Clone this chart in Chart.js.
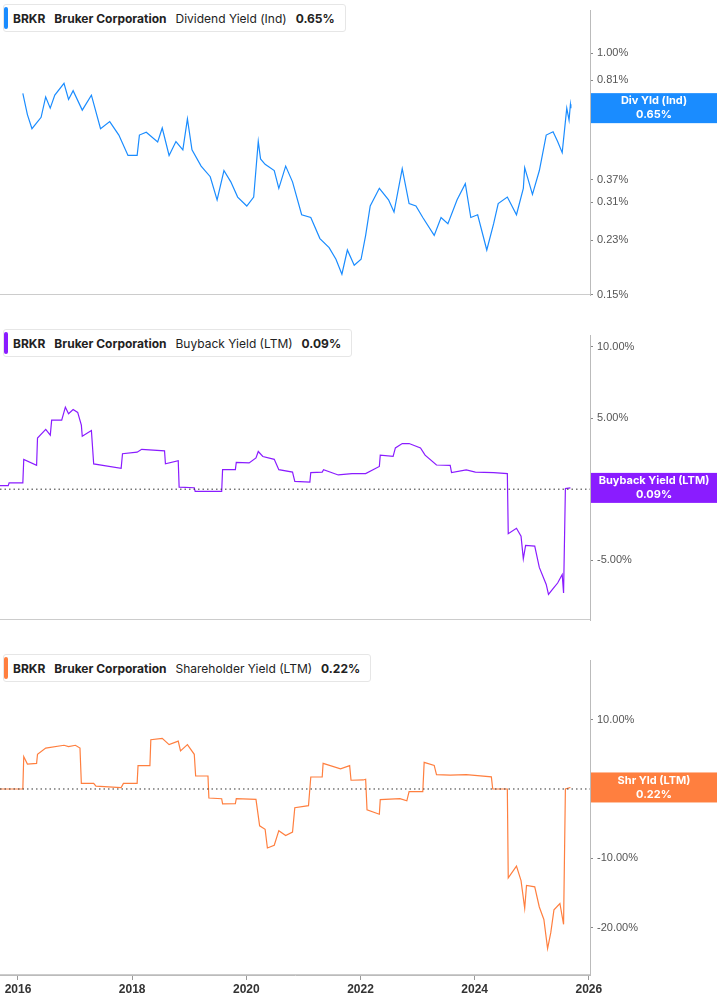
<!DOCTYPE html>
<html><head><meta charset="utf-8">
<script src="https://cdn.jsdelivr.net/npm/chart.js@4"></script>
<style>
body{margin:0;background:#fff;font-family:Inter,Roboto,sans-serif;}
.w{position:absolute;left:0;width:717px;}
.lg{position:absolute;left:3px;top:4px;background:#fff;border:1px solid #e6e6e6;border-radius:3px;height:26px;display:flex;align-items:center;font-size:12px;color:#222;padding:0 10px 0 9px;white-space:nowrap;}
.lg .bar{position:absolute;left:0;top:2px;width:4px;height:22px;border-radius:2px;}
.lg b{font-weight:700;margin-right:9px}
.lg span{margin-right:9px}
</style></head><body>
<div class="w" style="top:0;height:325px"><canvas id="c1"></canvas>
<div class="lg"><div class="bar" style="background:#1a8cff"></div><b>BRKR</b><b>Bruker Corporation</b><span>Dividend Yield (Ind)</span><b style="margin-right:0">0.65%</b></div></div>
<div class="w" style="top:325px;height:325px"><canvas id="c2"></canvas>
<div class="lg"><div class="bar" style="background:#8a1cff"></div><b>BRKR</b><b>Bruker Corporation</b><span>Buyback Yield (LTM)</span><b style="margin-right:0">0.09%</b></div></div>
<div class="w" style="top:650px;height:355px"><canvas id="c3"></canvas>
<div class="lg"><div class="bar" style="background:#ff7f3f"></div><b>BRKR</b><b>Bruker Corporation</b><span>Shareholder Yield (LTM)</span><b style="margin-right:0">0.22%</b></div></div>
<script>
const yearTicks=[2016,2018,2020,2022,2024,2026];
const divTicks=[1.00,0.81,0.59,0.37,0.31,0.23,0.15];
const buyTicks=[10,5,0,-5];
const shrTicks=[10,0,-10,-20];
const divX=[2016.085,2016.165,2016.245,2016.405,2016.485,2016.565,2016.645,2016.806,2016.886,2016.966,2017.126,2017.286,2017.446,2017.607,2017.767,2017.927,2018.087,2018.127,2018.247,2018.447,2018.527,2018.647,2018.767,2018.888,2018.968,2019.048,2019.208,2019.368,2019.488,2019.608,2019.728,2019.848,2020.008,2020.129,2020.209,2020.249,2020.329,2020.489,2020.569,2020.689,2020.809,2020.969,2021.129,2021.289,2021.450,2021.570,2021.674,2021.770,2021.890,2022.010,2022.090,2022.170,2022.330,2022.491,2022.587,2022.731,2022.851,2022.971,2023.091,2023.291,2023.411,2023.531,2023.692,2023.836,2023.932,2024.052,2024.212,2024.332,2024.412,2024.572,2024.732,2024.852,2024.876,2025.012,2025.133,2025.253,2025.373,2025.453,2025.533,2025.613,2025.653,2025.677,2025.685];
const divY=[0.73,0.618,0.553,0.605,0.71,0.65,0.72,0.79,0.696,0.746,0.64,0.72,0.553,0.585,0.526,0.448,0.448,0.526,0.538,0.498,0.556,0.448,0.50,0.468,0.597,0.468,0.412,0.379,0.316,0.398,0.364,0.323,0.301,0.323,0.50,0.436,0.418,0.398,0.346,0.412,0.364,0.281,0.275,0.233,0.217,0.198,0.176,0.213,0.189,0.198,0.239,0.301,0.346,0.316,0.287,0.404,0.307,0.301,0.275,0.239,0.275,0.262,0.316,0.359,0.275,0.281,0.213,0.262,0.307,0.323,0.281,0.346,0.407,0.33,0.398,0.526,0.54,0.50,0.458,0.65,0.592,0.67,0.65];
const buyX=[2015.685,2015.829,2015.845,2016.085,2016.101,2016.326,2016.342,2016.486,2016.566,2016.590,2016.766,2016.830,2016.886,2016.966,2017.046,2017.110,2017.126,2017.286,2017.326,2017.807,2017.831,2018.087,2018.167,2018.567,2018.583,2018.807,2018.823,2019.088,2019.104,2019.568,2019.584,2019.808,2019.824,2020.049,2020.169,2020.209,2020.289,2020.489,2020.569,2020.809,2020.849,2021.113,2021.129,2021.329,2021.353,2021.610,2021.850,2022.090,2022.330,2022.346,2022.571,2022.611,2022.731,2022.851,2023.051,2023.131,2023.331,2023.571,2023.595,2023.852,2024.012,2024.332,2024.572,2024.588,2024.732,2024.812,2024.852,2024.892,2025.052,2025.132,2025.253,2025.293,2025.373,2025.453,2025.533,2025.557,2025.589,2025.677];
const buyY=[0.25,0.25,0.45,0.45,2.09,1.68,3.6,4.2,3.8,4.85,4.85,5.77,5.3,5.6,5.4,4.5,3.72,4.13,1.78,1.47,2.49,2.6,2.8,2.7,1.78,2.0,0.14,0.1,-0.16,-0.16,1.37,1.37,1.88,1.85,2.2,2.65,2.3,2.1,1.37,1.2,0.55,0.5,1.17,1.2,1.37,1.0,1.1,1.1,1.6,2.39,2.3,2.9,3.21,3.21,2.9,2.39,1.7,1.68,1.17,1.35,1.2,1.17,1.1,-3.13,-2.75,-3.3,-4.9,-3.95,-4.0,-5.5,-6.7,-7.4,-7.0,-6.6,-6.0,-7.3,0.04,0.09];
const shrX=[2015.685,2016.085,2016.101,2016.165,2016.326,2016.342,2016.486,2016.806,2016.886,2017.006,2017.086,2017.110,2017.326,2017.366,2017.807,2017.847,2018.087,2018.103,2018.311,2018.327,2018.527,2018.647,2018.807,2018.847,2018.968,2019.088,2019.112,2019.328,2019.344,2019.568,2019.584,2019.808,2019.824,2020.169,2020.233,2020.329,2020.369,2020.489,2020.569,2020.689,2020.809,2020.849,2021.089,2021.129,2021.329,2021.345,2021.650,2021.810,2021.834,2022.050,2022.090,2022.114,2022.330,2022.346,2022.691,2022.811,2022.851,2023.091,2023.115,2023.291,2023.331,2023.571,2023.852,2024.292,2024.316,2024.572,2024.588,2024.732,2024.812,2024.876,2024.908,2025.052,2025.132,2025.212,2025.277,2025.333,2025.389,2025.493,2025.557,2025.589,2025.677];
const shrY=[0,0,4.67,3.6,3.7,5.0,5.9,6.3,6.1,6.3,5.9,0.8,0.8,0.4,0.2,0.8,0.8,3.36,3.36,7.1,7.3,6.4,6.9,5.5,6.4,5.0,1.87,1.87,-1.3,-1.4,-2.15,-2.1,-1.4,-1.5,-5.3,-5.8,-8.5,-8.1,-6.0,-6.7,-6.2,-2.7,-2.4,1.73,1.73,3.7,2.9,3.36,1.26,1.3,1.4,-3.0,-3.64,-1.54,-1.4,-1.7,-0.37,-0.37,3.83,3.4,2.06,2.0,2.06,1.75,0,0,-12.8,-11.1,-13.2,-17.2,-13.9,-14.1,-17.0,-18.8,-23.0,-20.7,-17.4,-16.5,-19.5,0,0.22];
function pts(xs,ys){const n=Math.min(xs.length,ys.length);const a=[];for(let i=0;i<n;i++)a.push({x:xs[i],y:ys[i]});return a;}
const XMIN=2015.685,XMAX=2026.02;
const tagPlugin={id:'tag',afterDraw(c){const o=c.options.plugins.tag;if(!o)return;const g=c.ctx;const y=c.scales.y.getPixelForValue(o.v);
 if(o.dot){g.save();g.setLineDash([1.5,3]);g.strokeStyle='#333';g.lineWidth=1;const y0=c.scales.y.getPixelForValue(0);g.beginPath();g.moveTo(c.chartArea.left,y0);g.lineTo(c.chartArea.right,y0);g.stroke();g.restore();}
 g.save();g.fillStyle=o.color;g.fillRect(591,y-15,126,30);g.fillStyle='#fff';g.font='bold 11px Inter, Roboto, sans-serif';g.textAlign='center';g.textBaseline='middle';g.fillText(o.l1,654,y-7);g.fillText(o.l2,654,y+7);g.restore();
 g.save();g.strokeStyle='#ccc';g.lineWidth=1;g.beginPath();g.moveTo(0,c.chartArea.bottom-0.5);g.lineTo(590,c.chartArea.bottom-0.5);g.stroke();g.restore();}};
Chart.register(tagPlugin);
function build(id,data,color,ytype,ymin,ymax,ticks,fmt,tag,showX){
 return new Chart(document.getElementById(id),{type:'line',data:{datasets:[{data:data,borderColor:color,borderWidth:1.2,pointRadius:0,tension:0,fill:false}]},
 options:{responsive:true,maintainAspectRatio:false,animation:false,layout:{padding:0},
 plugins:{legend:{display:false},tooltip:{enabled:false},tag:tag},
 scales:{x:{type:'linear',min:XMIN,max:XMAX,display:showX,afterBuildTicks:s=>{s.ticks=yearTicks.map(v=>({value:v}));},
   afterFit:s=>{s.height=30;},
   ticks:{callback:v=>String(v),color:'#333',font:{size:12,weight:'bold'},maxRotation:0,padding:2},
   grid:{drawOnChartArea:false,tickLength:5,color:'#999'},border:{color:'#bbb'}},
  y:{type:ytype,position:'right',min:ymin,max:ymax,afterBuildTicks:s=>{s.ticks=ticks.map(v=>({value:v}));},
   afterFit:s=>{s.width=127;},
   ticks:{callback:fmt,color:'#555',font:{size:11},padding:4},
   grid:{drawOnChartArea:false,tickLength:3,color:'#888'},border:{color:'#bbb'}}}}});
}
const pf=v=>Number(v).toFixed(2)+'%';
build('c1',pts(divX,divY),'#1a8cff','logarithmic',0.1495,1.40,divTicks,pf,{v:0.65,color:'#1a8cff',l1:'Div Yld (Ind)',l2:'0.65%'},false);
build('c2',pts(buyX,buyY),'#8a1cff','linear',-9.2,10.8,buyTicks,pf,{v:0.09,color:'#8a1cff',l1:'Buyback Yield (LTM)',l2:'0.09%',dot:true},false);
build('c3',pts(shrX,shrY),'#ff7f3f','linear',-26.8,18.5,shrTicks,pf,{v:0.22,color:'#ff7f3f',l1:'Shr Yld (LTM)',l2:'0.22%',dot:true},true);
</script></body></html>
